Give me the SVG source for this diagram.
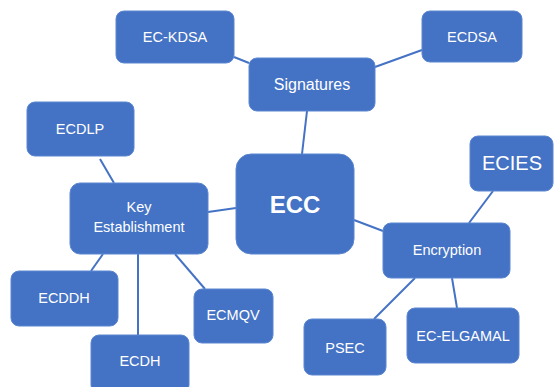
<svg xmlns="http://www.w3.org/2000/svg" width="556" height="387" viewBox="0 0 556 387">
<style>
.box{fill:#4472C4;stroke:#5B86D1;stroke-width:1}
.t{fill:#fff;font-family:"Liberation Sans",Arial,sans-serif;font-size:14.5px;text-anchor:middle;dominant-baseline:central}
.conn line{stroke:#4472C4;stroke-width:2}
</style>
<rect width="556" height="387" fill="#fff"/>
<g id="connectors" class="conn">
<line x1="234" y1="57" x2="249" y2="63"/>
<line x1="375" y1="67" x2="422" y2="50"/>
<line x1="307" y1="111" x2="302" y2="154"/>
<line x1="100" y1="159" x2="114" y2="183"/>
<line x1="208" y1="212" x2="236" y2="208"/>
<line x1="354" y1="220" x2="383" y2="231"/>
<line x1="493" y1="191" x2="469" y2="223"/>
<line x1="415" y1="278" x2="374" y2="319"/>
<line x1="452" y1="278" x2="457" y2="308"/>
<line x1="103" y1="254" x2="91" y2="271"/>
<line x1="138" y1="254" x2="138" y2="335"/>
<line x1="175" y1="254" x2="205" y2="289"/>
</g>
<g id="ec-kdsa"><rect class="box" x="116" y="11" width="118" height="52" rx="8"/><text class="t" x="175" y="37">EC-KDSA</text></g>
<g id="ecdsa"><rect class="box" x="422" y="11" width="100" height="51" rx="8"/><text class="t" x="472" y="37">ECDSA</text></g>
<g id="signatures"><rect class="box" x="249" y="58" width="126" height="53" rx="8"/><text class="t" x="312" y="84" style="font-size:16px">Signatures</text></g>
<g id="ecdlp"><rect class="box" x="27" y="102" width="107" height="54" rx="8"/><text class="t" x="80" y="129">ECDLP</text></g>
<g id="key-establishment"><rect class="box" x="70" y="183" width="138" height="71" rx="10"/><text class="t" x="139" y="207">Key</text><text class="t" x="139" y="227">Establishment</text></g>
<g id="ecc"><rect class="box" x="236" y="154" width="118" height="100" rx="15"/><text class="t" x="295" y="204" style="font-size:24px;font-weight:bold">ECC</text></g>
<g id="ecies"><rect class="box" x="470" y="136" width="83" height="55" rx="8"/><text class="t" x="512" y="163" style="font-size:20px">ECIES</text></g>
<g id="encryption"><rect class="box" x="383" y="223" width="127" height="55" rx="8"/><text class="t" x="447" y="250">Encryption</text></g>
<g id="psec"><rect class="box" x="304" y="319" width="82" height="56" rx="8"/><text class="t" x="345" y="348">PSEC</text></g>
<g id="ec-elgamal"><rect class="box" x="407" y="308" width="112" height="55" rx="8"/><text class="t" x="463" y="336">EC-ELGAMAL</text></g>
<g id="ecddh"><rect class="box" x="11" y="271" width="107" height="55" rx="8"/><text class="t" x="64" y="298">ECDDH</text></g>
<g id="ecdh"><rect class="box" x="91" y="335" width="98" height="58" rx="8"/><text class="t" x="140" y="361">ECDH</text></g>
<g id="ecmqv"><rect class="box" x="194" y="289" width="79" height="54" rx="8"/><text class="t" x="233" y="315">ECMQV</text></g>
</svg>
